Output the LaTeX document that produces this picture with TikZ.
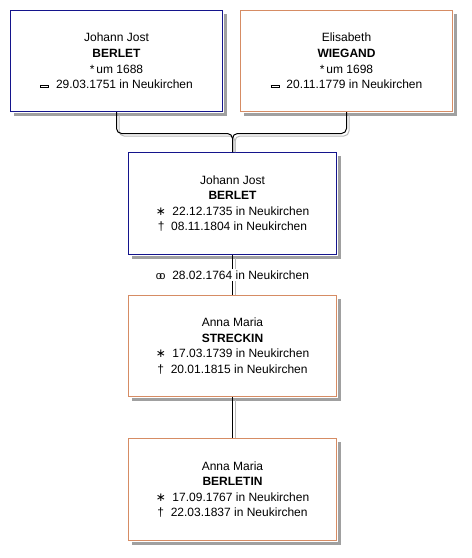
\documentclass[tikz,border=0pt]{standalone}
\usepackage{fontspec}
\setmainfont{Liberation Sans}
\newfontfamily\symfont{DejaVu Sans}
\usetikzlibrary{positioning,calc}
\definecolor{mancol}{RGB}{20,20,140}
\definecolor{womancol}{RGB}{214,140,100}
\definecolor{shadowgray}{RGB}{160,160,160}
\definecolor{linkgray}{RGB}{185,185,185}
\tikzset{
  person/.style={draw, fill=white, line width=1pt, align=center, minimum width=208pt, minimum height=101pt, inner sep=0pt, font=\fontsize{12}{15.6}\selectfont},
  male/.style={person, draw=mancol},
  female/.style={person, draw=womancol},
  boxshadow/.style={fill=shadowgray, draw=none},
  link/.style={line width=1pt, rounded corners=5pt},
  linkshadow/.style={link, draw=linkgray, shorten >=2.5pt, transform canvas={shift={(2.5pt,-2.5pt)}}},
  wedding/.style={fill=white, inner sep=2pt, font=\fontsize{12}{14}\selectfont}
}
\newcommand{\burial}{{\fboxsep=0pt\fboxrule=1.1pt\raisebox{2pt}{\fbox{\rule{7pt}{0pt}\rule{0pt}{0.6pt}}}}}
\newcommand{\rings}{{\fontsize{11}{11}\selectfont o\kern-2.6pt o}}
\newcommand{\born}{{\symfont ∗}}
\begin{document}
\begin{tikzpicture}[x=1pt, y=-1pt, node distance=41pt]
\useasboundingbox (0,0) rectangle (472,558);
\node[male, minimum width=212pt] (father) at (116.5,61) {Johann Jost\\\textbf{BERLET}\\*\,um 1688\\\burial\ \ 29.03.1751 in Neukirchen};
\node[female, minimum width=212pt] (mother) at (346.5,61) {Elisabeth\\\textbf{WIEGAND}\\*\,um 1698\\\burial\ \ 20.11.1779 in Neukirchen};
\node[male, minimum height=102pt] (son) at (232.5,203.5) {Johann Jost\\\textbf{BERLET}\\\born\ \ 22.12.1735 in Neukirchen\\†\ \ 08.11.1804 in Neukirchen};
\node[female, below=40pt of son] (wife) {Anna Maria\\\textbf{STRECKIN}\\\born\ \ 17.03.1739 in Neukirchen\\†\ \ 20.01.1815 in Neukirchen};
\node[female, minimum height=102pt, below=of wife] (daughter) {Anna Maria\\\textbf{BERLETIN}\\\born\ \ 17.09.1767 in Neukirchen\\†\ \ 22.03.1837 in Neukirchen};
\coordinate (join) at (232.5,133.5);
% shadows of boxes (right and bottom strips)
\foreach \p in {father,mother,son,wife,daughter}{
  \fill[boxshadow] ($(\p.north east)+(0.5,4)$) rectangle ($(\p.south east)+(4,4)$);
  \fill[boxshadow] ($(\p.south west)+(4,0.5)$) rectangle ($(\p.south east)+(4,4)$);
}
% connectors, shadow first
\draw[linkshadow] (father.south) -- (father.south |- join) -- (join) -- (son.north);
\draw[linkshadow] (mother.south) -- (mother.south |- join) -- (join) -- (son.north);
\draw[linkshadow] (son.south) -- (wife.north);
\draw[linkshadow] (wife.south) -- (daughter.north);
\draw[link] (father.south) -- (father.south |- join) -- (join) -- (son.north);
\draw[link] (mother.south) -- (mother.south |- join) -- (join) -- (son.north);
\draw[link] (son.south) -- (wife.north);
\draw[link] (wife.south) -- (daughter.north);
\node[wedding] (marriage) at ($(son.south)!0.5!(wife.north)$) {\rings\ \ 28.02.1764 in Neukirchen};
\end{tikzpicture}
\end{document}
